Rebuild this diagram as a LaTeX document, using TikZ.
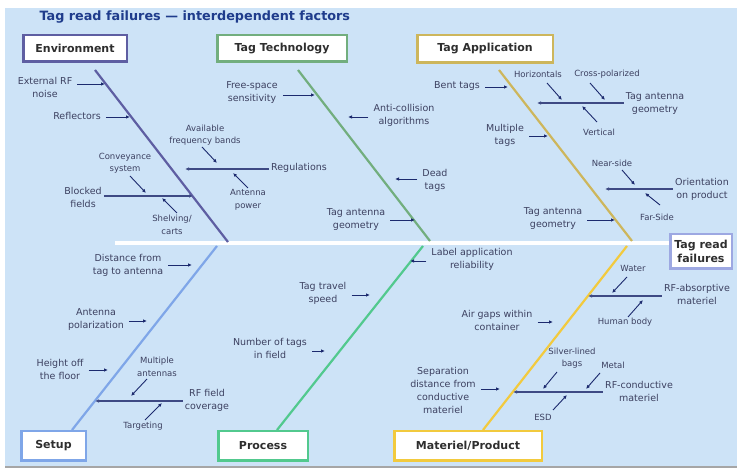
\documentclass[tikz,border=0pt]{standalone}
\usepackage{fontspec}
\setmainfont{DejaVu Sans}
\usetikzlibrary{arrows.meta}

\definecolor{bgblue}{HTML}{CDE3F7}
\definecolor{ink}{HTML}{1C2A6E}
\definecolor{txt}{HTML}{3C4060}
\definecolor{titleblue}{HTML}{1F3C8C}
\definecolor{envc}{HTML}{5E5EA2}
\definecolor{techc}{HTML}{72AE7E}
\definecolor{appc}{HTML}{CDB65C}
\definecolor{setc}{HTML}{7FA6E8}
\definecolor{procc}{HTML}{52C98E}
\definecolor{matc}{HTML}{F2CA3E}
\definecolor{effc}{HTML}{9DA8E2}

\tikzset{
  cat/.style={draw=#1, line width=2.5pt, fill=white, text=black!82,
    font=\fontsize{11}{13}\selectfont\bfseries, inner sep=0pt},
  bone/.style={draw=#1, line width=2.2pt},
  lbl/.style={text=txt, font=\fontsize{9.5}{13}\selectfont, align=center, inner sep=1pt},
  sml/.style={text=txt, font=\fontsize{8.5}{12.5}\selectfont, align=center, inner sep=1pt},
  arr/.style={draw=ink, line width=0.9pt, -{Latex[length=4pt,width=3.5pt]}},
  harr/.style={arr, shorten <=4pt},
  sub/.style={draw=ink!85, line width=1.3pt, -{Latex[length=4pt,width=3.5pt]}, shorten <=1pt},
}

\begin{document}
\begin{tikzpicture}[x=1pt,y=-1pt]
\useasboundingbox (0,0) rectangle (737,470);
\fill[bgblue] (5,8) rectangle (737,466);
\draw[black!35, line width=1.5pt] (5,467) -- (737,467);

\node[anchor=west, text=titleblue, font=\fontsize{12.8}{15}\selectfont\bfseries] (title) at (36,17.5)
  {Tag read failures — interdependent factors};

% spine
\node[cat=effc, minimum width=61.5pt, minimum height=34.5pt, align=center,
  font=\fontsize{11}{14.5}\selectfont\bfseries] (eff) at (701,251.5) {Tag read\\failures};
\coordinate (spine) at (115,243);
\draw[white, line width=4pt] (spine) -- (eff.west |- spine);

% categories
\node[cat=envc, minimum width=103.5pt, minimum height=26.5pt] (env) at (75,48.5) {Environment};
\node[cat=techc, minimum width=129.5pt, minimum height=26.5pt] (tech) at (282,48.5) {Tag Technology};
\node[cat=appc, minimum width=135.5pt, minimum height=27.5pt] (app) at (485,49) {Tag Application};
\node[cat=setc, minimum width=64.5pt, minimum height=29.5pt] (setup) at (53.5,446) {Setup};
\node[cat=procc, minimum width=89.5pt, minimum height=29.5pt] (proc) at (263,446) {Process};
\node[cat=matc, minimum width=147.5pt, minimum height=29.5pt] (mat) at (468,446) {Materiel/Product};

% bones
\coordinate (env-a) at (95,70);    \coordinate (env-b) at (228,242);
\coordinate (tech-a) at (298,70);  \coordinate (tech-b) at (430,241);
\coordinate (app-a) at (499,70);   \coordinate (app-b) at (632,241);
\coordinate (set-a) at (217,246);  \coordinate (set-b) at (72,430);
\coordinate (proc-a) at (423,246); \coordinate (proc-b) at (277,430);
\coordinate (mat-a) at (627,246);  \coordinate (mat-b) at (483,430);
\draw[bone=envc] (env-a) -- (env-b);
\draw[bone=techc] (tech-a) -- (tech-b);
\draw[bone=appc] (app-a) -- (app-b);
\draw[bone=setc] (set-a) -- (set-b);
\draw[bone=procc] (proc-a) -- (proc-b);
\draw[bone=matc] (mat-a) -- (mat-b);

% Environment
\node[lbl] (noise) at (45,87) {External RF\\noise};
\node[lbl] (refl) at (77,116) {Reflectors};
\node[lbl, anchor=west] (regs) at (270,168) {Regulations};
\node[sml] (avail) at (205,135) {Available\\frequency bands};
\node[sml] (antp) at (248,200) {Antenna\\power};
\node[lbl] (blocked) at (83,197) {Blocked\\fields};
\node[sml] (conv) at (125,163) {Conveyance\\system};
\node[sml] (shelv) at (172,225) {Shelving/\\carts};
\coordinate (noise-t) at (105,84);
\coordinate (refl-t) at (130,117);
\coordinate (regs-t) at (185,169);
\coordinate (blocked-t) at (193,196);
\coordinate (avail-f) at (202,147);  \coordinate (avail-t) at (217,163);
\coordinate (antp-f) at (248,188);   \coordinate (antp-t) at (233,173);
\coordinate (conv-f) at (130,176);   \coordinate (conv-t) at (146,193);
\coordinate (shelv-f) at (177,213);  \coordinate (shelv-t) at (162,198);
\draw[harr] (noise.east |- noise-t) -- (noise-t);
\draw[harr] (refl.east |- refl-t) -- (refl-t);
\draw[sub] (regs.west |- regs-t) -- (regs-t);
\draw[sub] (blocked.east |- blocked-t) -- (blocked-t);
\draw[arr] (avail-f) -- (avail-t);
\draw[arr] (antp-f) -- (antp-t);
\draw[arr] (conv-f) -- (conv-t);
\draw[arr] (shelv-f) -- (shelv-t);

% Tag Technology
\node[lbl] (free) at (252,93) {Free-space\\sensitivity};
\node[lbl] (anti) at (404,115) {Anti-collision\\algorithms};
\node[lbl] (dead) at (435,180) {Dead\\tags};
\node[lbl] (tagg) at (356,220) {Tag antenna\\geometry};
\coordinate (free-t) at (315,95);
\coordinate (anti-t) at (348,117);
\coordinate (dead-t) at (395,179);
\coordinate (tagg-t) at (415,220);
\draw[harr] (free.east |- free-t) -- (free-t);
\draw[harr] (anti.west |- anti-t) -- (anti-t);
\draw[harr] (dead.west |- dead-t) -- (dead-t);
\draw[harr] (tagg.east |- tagg-t) -- (tagg-t);

% Tag Application
\node[lbl] (bent) at (457,86) {Bent tags};
\node[lbl] (geom) at (655,104) {Tag antenna\\geometry};
\node[sml] (horiz) at (538,74) {Horizontals};
\node[sml] (cross) at (607,74) {Cross-polarized};
\node[sml] (vert) at (599,132) {Vertical};
\node[lbl] (multi) at (505,135) {Multiple\\tags};
\node[lbl] (orient) at (702,189) {Orientation\\on product};
\node[sml] (near) at (612,163) {Near-side};
\node[sml] (far) at (657,217) {Far-Side};
\node[lbl] (tagg2) at (553,219) {Tag antenna\\geometry};
\coordinate (bent-t) at (508,87);
\coordinate (geom-t) at (537,103);
\coordinate (multi-t) at (548,136);
\coordinate (orient-t) at (605,189);
\coordinate (tagg2-t) at (615,220);
\coordinate (horiz-f) at (547,83);  \coordinate (horiz-t) at (562,100);
\coordinate (cross-f) at (590,83);  \coordinate (cross-t) at (605,100);
\coordinate (vert-f) at (597,122);  \coordinate (vert-t) at (582,106);
\coordinate (near-f) at (622,170);  \coordinate (near-t) at (635,185);
\coordinate (far-f) at (660,205);   \coordinate (far-t) at (645,193);
\draw[harr] (bent.east |- bent-t) -- (bent-t);
\draw[sub] (geom.west |- geom-t) -- (geom-t);
\draw[harr] (multi.east |- multi-t) -- (multi-t);
\draw[sub] (orient.west |- orient-t) -- (orient-t);
\draw[harr] (tagg2.east |- tagg2-t) -- (tagg2-t);
\draw[arr] (horiz-f) -- (horiz-t);
\draw[arr] (cross-f) -- (cross-t);
\draw[arr] (vert-f) -- (vert-t);
\draw[arr] (near-f) -- (near-t);
\draw[arr] (far-f) -- (far-t);

% Setup
\node[lbl] (dist) at (128,265) {Distance from\\tag to antenna};
\node[lbl] (apol) at (96,320) {Antenna\\polarization};
\node[lbl] (height) at (60,369) {Height off\\the floor};
\node[lbl] (rfcov) at (207,400) {RF field\\coverage};
\node[sml] (mant) at (157,367) {Multiple\\antennas};
\node[sml] (targ) at (143,426) {Targeting};
\coordinate (dist-t) at (192,265);
\coordinate (apol-t) at (147,321);
\coordinate (height-t) at (108,370);
\coordinate (rfcov-t) at (95,401);
\coordinate (mant-f) at (147,379);  \coordinate (mant-t) at (131,396);
\coordinate (targ-f) at (145,420);  \coordinate (targ-t) at (162,403);
\draw[harr] (dist.east |- dist-t) -- (dist-t);
\draw[harr] (apol.east |- apol-t) -- (apol-t);
\draw[harr] (height.east |- height-t) -- (height-t);
\draw[sub] (rfcov.west |- rfcov-t) -- (rfcov-t);
\draw[arr] (mant-f) -- (mant-t);
\draw[arr] (targ-f) -- (targ-t);

% Process
\node[lbl] (speed) at (323,293) {Tag travel\\speed};
\node[lbl] (numt) at (270,348) {Number of tags\\in field};
\node[lbl] (labrel) at (472,259) {Label application\\reliability};
\coordinate (speed-t) at (370,295);
\coordinate (numt-t) at (325,351);
\coordinate (labrel-t) at (410,261);
\draw[harr] (speed.east |- speed-t) -- (speed-t);
\draw[harr] (numt.east |- numt-t) -- (numt-t);
\draw[harr] (labrel.west |- labrel-t) -- (labrel-t);

% Materiel/Product
\node[lbl] (rfabs) at (697,294) {RF-absorptive\\materiel};
\node[sml] (water) at (633,268) {Water};
\node[sml] (human) at (625,322) {Human body};
\node[lbl] (air) at (497,320) {Air gaps within\\container};
\node[lbl] (rfcond) at (639,391) {RF-conductive\\materiel};
\node[sml] (silver) at (572,358) {Silver-lined\\bags};
\node[sml] (metal) at (613,365) {Metal};
\node[sml] (esd) at (543,417) {ESD};
\node[lbl] (sep) at (443,390) {Separation\\distance from\\conductive\\materiel};
\coordinate (rfabs-t) at (588,296);
\coordinate (air-t) at (553,322);
\coordinate (rfcond-t) at (513,392);
\coordinate (sep-t) at (500,389);
\coordinate (water-f) at (627,277);  \coordinate (water-t) at (612,293);
\coordinate (human-f) at (628,317);  \coordinate (human-t) at (643,300);
\coordinate (silver-f) at (557,372); \coordinate (silver-t) at (543,389);
\coordinate (metal-f) at (600,373);  \coordinate (metal-t) at (586,389);
\coordinate (esd-f) at (553,410);    \coordinate (esd-t) at (567,395);
\draw[sub] (rfabs.west |- rfabs-t) -- (rfabs-t);
\draw[harr] (air.east |- air-t) -- (air-t);
\draw[sub] (rfcond.west |- rfcond-t) -- (rfcond-t);
\draw[harr] (sep.east |- sep-t) -- (sep-t);
\draw[arr] (water-f) -- (water-t);
\draw[arr] (human-f) -- (human-t);
\draw[arr] (silver-f) -- (silver-t);
\draw[arr] (metal-f) -- (metal-t);
\draw[arr] (esd-f) -- (esd-t);

\end{tikzpicture}
\end{document}
